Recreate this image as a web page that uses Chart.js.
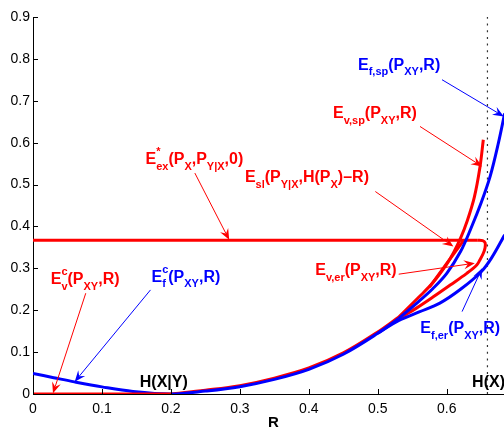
<!DOCTYPE html>
<html>
<head>
<meta charset="utf-8">
<script src="https://cdn.jsdelivr.net/npm/chart.js@4.4.0/dist/chart.umd.min.js"></script>
<style>
  body { margin: 0; background: #fff; }
  #wrap { width: 504px; height: 430px; }
</style>
</head>
<body>
<div id="wrap"><canvas id="chart" width="504" height="430"></canvas></div>
<script>
// Error exponents vs rate R

const xTicks = [0, 0.1, 0.2, 0.3, 0.4, 0.5, 0.6];
const yTicks = [0, 0.1, 0.2, 0.3, 0.4, 0.5, 0.6, 0.7, 0.8, 0.9];

// E_f^c (blue), common lower curve
const fcR = [0, 0.03, 0.06, 0.1, 0.145, 0.2, 0.25, 0.3, 0.35, 0.4, 0.45, 0.5, 0.53];
const fcE = [0.049, 0.039, 0.029, 0.017, 0.006, 0.0, 0.007, 0.0175, 0.035, 0.059, 0.095, 0.145, 0.18];

// E_v^c (red), zero part and rising part
const vzR = [0, 0.2];
const vzE = [0, 0];
const vcR = [0.2, 0.25, 0.3, 0.35, 0.4, 0.45, 0.5, 0.53];
const vcE = [0.0, 0.009, 0.02, 0.038, 0.062, 0.098, 0.148, 0.183];

// sphere packing branches
const fspR = [0.53, 0.56, 0.58, 0.60, 0.62, 0.635, 0.65, 0.663, 0.675, 0.684];
const fspE = [0.18, 0.222, 0.252, 0.288, 0.34, 0.395, 0.457, 0.52, 0.6, 0.67];
const vspR = [0.53, 0.56, 0.58, 0.60, 0.61, 0.62, 0.63, 0.64, 0.648, 0.653];
const vspE = [0.183, 0.232, 0.266, 0.31, 0.338, 0.372, 0.415, 0.47, 0.54, 0.607];

// expurgated / error-rate branches
const ferR = [0.5, 0.53, 0.56, 0.59, 0.62, 0.65, 0.665, 0.684];
const ferE = [0.145, 0.175, 0.196, 0.217, 0.25, 0.292, 0.325, 0.38];
const verR = [0.645, 0.652, 0.6556, 0.6556, 0.653, 0.648, 0.6435, 0.629, 0.605, 0.581, 0.556, 0.532, 0.51];
const verE = [0.367, 0.366, 0.361, 0.35, 0.336, 0.32, 0.308, 0.288, 0.26, 0.2325, 0.205, 0.181, 0.158];

// E_ex^* flat line and E_sl
const exR = [0, 0.645];
const exE = [0.367, 0.367];
const slR = [0.575, 0.6245];
const slE = [0.255, 0.367];

// H(X) marker
const hxR = [0.659, 0.659];
const hxE = [0, 0.9];

const RED = '#ff0000';
const BLUE = '#0000ff';

function pts(xs, ys) {
    return xs.map((x, i) => ({ x: x, y: ys[i] }));
}

function curve(xs, ys, color, order) {
    return {
        data: pts(xs, ys),
        borderColor: color,
        borderWidth: 3,
        pointRadius: 0,
        tension: 0.35,
        fill: false,
        order: order,
    };
}

// text labels with arrows, positions in data units
const notes = [
    { c: BLUE, at: [0.4713, 0.7742], parts: ['E', { sub: 'f,sp' }, '(P', { sub: 'XY' }, ',R)'], from: [0.5931, 0.7503], to: [0.6827, 0.6626] },
    { c: RED, at: [0.4350, 0.6595], parts: ['E', { sub: 'v,sp' }, '(P', { sub: 'XY' }, ',R)'], from: [0.5612, 0.6387], to: [0.6512, 0.5431] },
    { c: RED, at: [0.3073, 0.5066], parts: ['E', { sub: 'sl' }, '(P', { sub: 'Y|X' }, ',H(P', { sub: 'X' }, ')\u2013R)'], from: [0.4964, 0.4834], to: [0.6096, 0.352] },
    { c: RED, at: [0.1631, 0.5496], parts: ['E', { sup: '*', sub: 'ex' }, '(P', { sub: 'X' }, ',P', { sub: 'Y|X' }, ',0)'], from: [0.2347, 0.5274], to: [0.2845, 0.368] },
    { c: RED, at: [0.4093, 0.2844], parts: ['E', { sub: 'v,er' }, '(P', { sub: 'XY' }, ',R)'], from: [0.5303, 0.286], to: [0.6406, 0.3123] },
    { c: BLUE, at: [0.5617, 0.1458], parts: ['E', { sub: 'f,er' }, '(P', { sub: 'XY' }, ',R)'], from: [0.6222, 0.1967], to: [0.6512, 0.3004] },
    { c: RED, at: [0.0257, 0.2628], parts: ['E', { sup: 'c', sub: 'v' }, '(P', { sub: 'XY' }, ',R)'], from: [0.0765, 0.2406], to: [0.029, 0.0017] },
    { c: BLUE, at: [0.1718, 0.2683], parts: ['E', { sup: 'c', sub: 'f' }, '(P', { sub: 'XY' }, ',R)'], from: [0.1704, 0.2485], to: [0.0605, 0.0294] },
    { c: '#000', at: [0.1549, 0.0167], parts: ['H(X|Y)'] },
    { c: '#000', at: [0.6367, 0.0174], parts: ['H(X)'] },
    { c: '#000', at: [0.3406, -0.0788], parts: ['R'], size: 15 },
];

function drawRich(ctx, x, y, parts, color, size) {
    const small = Math.round(size * 0.7);
    ctx.fillStyle = color;
    ctx.textAlign = 'left';
    ctx.textBaseline = 'alphabetic';
    for (const p of parts) {
        if (typeof p === 'string') {
            ctx.font = `bold ${size}px "Liberation Sans", Arial, sans-serif`;
            ctx.fillText(p, x, y);
            x += ctx.measureText(p).width;
        } else {
            ctx.font = `bold ${small}px "Liberation Sans", Arial, sans-serif`;
            let w = 0;
            if (p.sup) {
                ctx.fillText(p.sup, x, y - size * 0.55);
                w = ctx.measureText(p.sup).width;
            }
            if (p.sub) {
                ctx.fillText(p.sub, x, y + size * 0.36);
                w = Math.max(w, ctx.measureText(p.sub).width);
            }
            x += w;
        }
    }
}

function drawArrow(ctx, x1, y1, x2, y2, color) {
    const a = Math.atan2(y2 - y1, x2 - x1);
    const len = 11, half = 4.5, back = 7;
    ctx.strokeStyle = color;
    ctx.fillStyle = color;
    ctx.lineWidth = 1;
    ctx.beginPath();
    ctx.moveTo(x1, y1);
    ctx.lineTo(x2 - Math.cos(a) * back, y2 - Math.sin(a) * back);
    ctx.stroke();
    const bx = x2 - Math.cos(a) * len, by = y2 - Math.sin(a) * len;
    ctx.beginPath();
    ctx.moveTo(x2, y2);
    ctx.lineTo(bx + Math.sin(a) * half, by - Math.cos(a) * half);
    ctx.lineTo(x2 - Math.cos(a) * back, y2 - Math.sin(a) * back);
    ctx.lineTo(bx - Math.sin(a) * half, by + Math.cos(a) * half);
    ctx.closePath();
    ctx.fill();
}

// inner tick marks, labels and arrows
const annotate = {
    id: 'annotate',
    afterDraw(chart) {
        const ctx = chart.ctx;
        const xs = chart.scales.x, ys = chart.scales.y;
        const area = chart.chartArea;
        ctx.save();
        ctx.strokeStyle = '#000';
        ctx.lineWidth = 1;
        ctx.beginPath();
        for (const v of xTicks) {
            const px = Math.round(xs.getPixelForValue(v)) + 0.5;
            ctx.moveTo(px, area.bottom);
            ctx.lineTo(px, area.bottom - 5);
        }
        for (const v of yTicks) {
            const py = Math.round(ys.getPixelForValue(v)) + 0.5;
            ctx.moveTo(area.left, py);
            ctx.lineTo(area.left + 5, py);
        }
        ctx.stroke();

        for (const n of notes) {
            if (n.from) {
                drawArrow(ctx, xs.getPixelForValue(n.from[0]), ys.getPixelForValue(n.from[1]),
                    xs.getPixelForValue(n.to[0]), ys.getPixelForValue(n.to[1]), n.c);
            }
            drawRich(ctx, xs.getPixelForValue(n.at[0]), ys.getPixelForValue(n.at[1]), n.parts, n.c, n.size || 16);
        }
        ctx.restore();
    },
};

const hxLine = {
    data: pts(hxR, hxE),
    borderColor: '#333',
    borderWidth: 1.2,
    borderDash: [2, 4.7],
    pointRadius: 0,
    fill: false,
    order: 5,
};

new Chart(document.getElementById('chart'), {
    type: 'line',
    data: {
        datasets: [
            hxLine,
            curve(vzR, vzE, RED, 0),
            curve(fcR, fcE, BLUE, 1),
            curve(fspR, fspE, BLUE, 1),
            curve(ferR, ferE, BLUE, 1),
            curve(vcR, vcE, RED, 2),
            curve(vspR, vspE, RED, 2),
            curve(verR, verE, RED, 2),
            curve(exR, exE, RED, 2),
            curve(slR, slE, RED, 2),
        ],
    },
    options: {
        responsive: false,
        devicePixelRatio: 1,
        animation: false,
        events: [],
        layout: { padding: { top: 17, right: 0, left: 0, bottom: 0 } },
        plugins: {
            legend: { display: false },
            tooltip: { enabled: false },
        },
        scales: {
            x: {
                type: 'linear',
                min: 0,
                max: 0.683,
                afterBuildTicks: (scale) => { scale.ticks = xTicks.map(v => ({ value: v })); },
                afterFit: (scale) => { scale.height = 36; },
                grid: { display: false, drawTicks: false },
                border: { display: true, color: '#000', width: 1 },
                ticks: {
                    color: '#000',
                    padding: 7,
                    font: { family: '"Liberation Sans", Arial, sans-serif', size: 14 },
                    callback: (v) => (v === 0 ? '0' : v.toFixed(1)),
                },
            },
            y: {
                type: 'linear',
                min: 0,
                max: 0.9,
                afterBuildTicks: (scale) => { scale.ticks = yTicks.map(v => ({ value: v })); },
                afterFit: (scale) => { scale.width = 33; },
                grid: { display: false, drawTicks: false },
                border: { display: true, color: '#000', width: 1 },
                ticks: {
                    color: '#000',
                    padding: 3,
                    font: { family: '"Liberation Sans", Arial, sans-serif', size: 14 },
                    callback: (v) => (v === 0 ? '0' : v.toFixed(1)),
                },
            },
        },
    },
    plugins: [annotate],
});
</script>
</body>
</html>
